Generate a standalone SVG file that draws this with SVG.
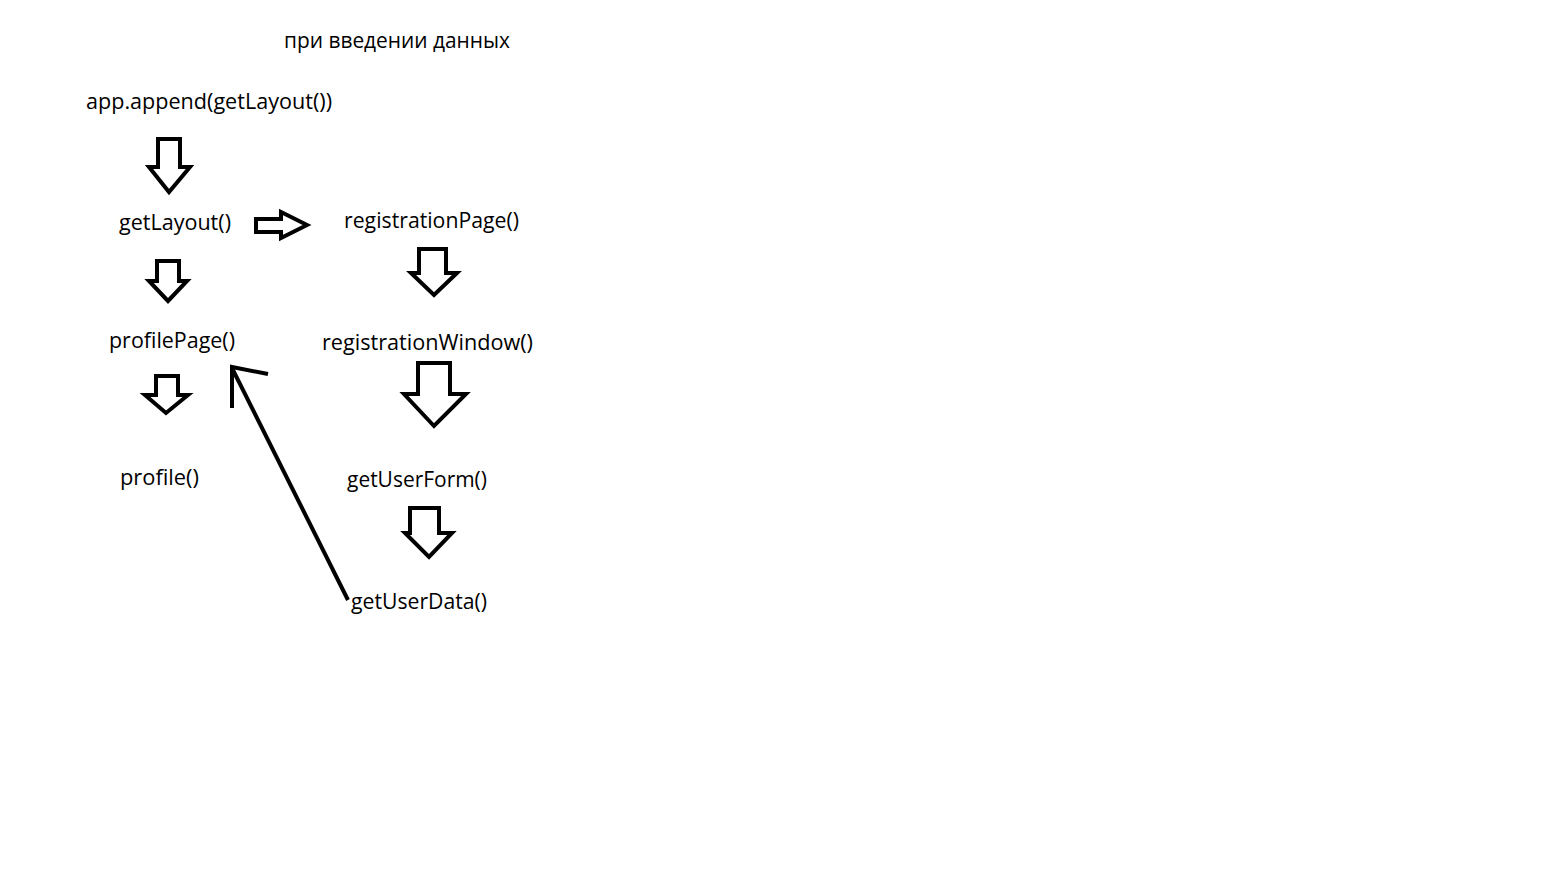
<svg xmlns="http://www.w3.org/2000/svg" width="1544" height="894" viewBox="0 0 1544 894">
<style>
text{font-family:"Open Sans","Noto Sans","Liberation Sans",sans-serif;font-size:21px;fill:#000}
.blk{fill:#fff;stroke:#000;stroke-width:4;stroke-linejoin:miter}
.ln{fill:none;stroke:#000;stroke-width:4;stroke-linecap:butt;stroke-linejoin:miter}
</style>
<rect width="1544" height="894" fill="#fff"/>
<g id="title"><text x="284" y="48" textLength="226" lengthAdjust="spacingAndGlyphs">при введении данных</text></g>
<g id="app"><text x="86" y="109" textLength="246" lengthAdjust="spacingAndGlyphs">app.append(getLayout())</text></g>
<g id="getLayout"><text x="119" y="230" textLength="112" lengthAdjust="spacingAndGlyphs">getLayout()</text></g>
<g id="registrationPage"><text x="344" y="228" textLength="175" lengthAdjust="spacingAndGlyphs">registrationPage()</text></g>
<g id="profilePage"><text x="109" y="348" textLength="126" lengthAdjust="spacingAndGlyphs">profilePage()</text></g>
<g id="registrationWindow"><text x="322" y="350" textLength="211" lengthAdjust="spacingAndGlyphs">registrationWindow()</text></g>
<g id="profile"><text x="120" y="485" textLength="79" lengthAdjust="spacingAndGlyphs">profile()</text></g>
<g id="getUserForm"><text x="347" y="487" textLength="140" lengthAdjust="spacingAndGlyphs">getUserForm()</text></g>
<g id="getUserData"><text x="351" y="609" textLength="136" lengthAdjust="spacingAndGlyphs">getUserData()</text></g>
<g id="connectors">
<polygon class="blk" points="158,139 180,139 180,167 190,167 169,192 149,167 158,167"/>
<polygon class="blk" points="256,219 281,219 281,212 307,225 281,238 281,232 256,232"/>
<polygon class="blk" points="157,261 179,261 179,281 187,281 168,301 149,281 157,281"/>
<polygon class="blk" points="156,376 178,376 178,395 188,395 166,413 145,395 156,395"/>
<polygon class="blk" points="419,249 446,249 446,273 457,273 434,295 411,273 419,273"/>
<polygon class="blk" points="418,363 450,363 450,394 466,394 434,426 404,394 418,394"/>
<polygon class="blk" points="410,508 439,508 439,533 452,533 429,557 405,533 410,533"/>
<line class="ln" x1="348" y1="600" x2="232" y2="368"/>
<polyline class="ln" points="232,408 232,367 268,374"/>
</g>
</svg>
